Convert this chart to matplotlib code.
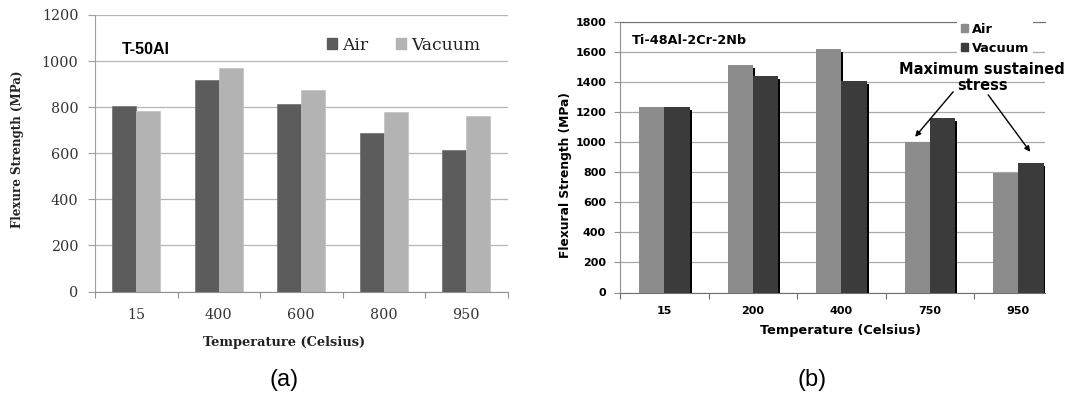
import matplotlib
matplotlib.use("agg")
import matplotlib.pyplot as plt
import matplotlib.transforms as mtransforms
from matplotlib.patches import Patch
import numpy as np

# (a) T-50Al
temps_a = ["15", "400", "600", "800", "950"]
air_a = [806, 918, 812, 686, 612]
vacuum_a = [785, 969, 876, 778, 763]

# (b) Ti-48Al-2Cr-2Nb
temps_b = ["15", "200", "400", "750", "950"]
air_b = [1237, 1513, 1621, 1001, 799]
vacuum_b = [1237, 1445, 1407, 1161, 861]

W, H = 1068, 398
fig = plt.figure(figsize=(W / 100, H / 100), dpi=100)

serif = "DejaVu Serif"
sans = "DejaVu Sans"
arial = "Liberation Sans"

# ---------------- left chart ----------------
ax1 = fig.add_axes([95 / W, 1 - 291.5 / H, 412.5 / W, 276.5 / H])
x = np.arange(len(temps_a))
bw = 0.29
ax1.bar(x - bw / 2, air_a, bw, color="#5c5c5c", edgecolor="#6e6e6e", linewidth=0.5, zorder=3)
ax1.bar(x + bw / 2, vacuum_a, bw, color="#b3b3b3", edgecolor="#c0c0c0", linewidth=0.5, zorder=3)
ax1.set_xlim(-0.5, 4.5)
ax1.set_ylim(0, 1200)
ax1.set_yticks(range(0, 1201, 200))
ax1.yaxis.grid(True, color="#b5b5b5", linewidth=0.9)
ax1.set_axisbelow(True)
for s in ["top", "right"]:
    ax1.spines[s].set_visible(False)
ax1.spines["left"].set_color("#a0a0a0")
ax1.spines["bottom"].set_color("#909090")
bounds_a = np.arange(len(temps_a) + 1) - 0.5
ax1.set_xticks(bounds_a, [""] * len(bounds_a))
ax1.set_xticks(x, temps_a, minor=True)
ax1.tick_params(axis="x", which="major", length=4, color="#909090", direction="out")
ax1.tick_params(axis="x", which="minor", length=0, pad=12)
ax1.tick_params(axis="y", length=5, color="#a0a0a0", pad=7)
for lab in ax1.get_xticklabels(minor=True) + ax1.get_yticklabels():
    lab.set_fontfamily(serif)
    lab.set_fontsize(10.3)
    lab.set_color("#333333")
ax1.set_ylabel("Flexure Strength (MPa)", fontfamily=serif, fontweight="bold", fontsize=8.6, color="#222222")
ax1.yaxis.set_label_coords(-0.189, 0.515)
ax1.yaxis.label.set_va("center")
ax1.set_xlabel("Temperature (Celsius)", fontfamily=serif, fontweight="bold", fontsize=9.4, color="#222222")
ax1.xaxis.set_label_coords(0.458, -0.186)
ax1.xaxis.label.set_va("center")
ax1.text(27 / 412.5, (291.5 - 50) / 276.5, "T-50Al", transform=ax1.transAxes,
         fontfamily=arial, fontweight="bold", fontsize=11.5, va="center", ha="left")
leg1 = ax1.legend([Patch(color="#5c5c5c"), Patch(color="#b3b3b3")], ["Air", "Vacuum"],
                  ncol=2, frameon=False, loc="center left",
                  bbox_to_anchor=(327 / W, 1 - 45 / H), bbox_transform=fig.transFigure,
                  borderpad=0, borderaxespad=0, handlelength=0.6, handleheight=0.6,
                  handletextpad=0.3, columnspacing=1.6,
                  prop={"family": serif, "size": 12.3})
for t in leg1.get_texts():
    t.set_color("#222222")
fig.text(284 / W, 1 - 380 / H, "(a)", fontfamily=arial, fontsize=17, ha="center", va="center")

# ---------------- right chart ----------------
ax2 = fig.add_axes([620 / W, 1 - 292.5 / H, 425 / W, 270.2 / H])
x = np.arange(len(temps_b))
bw = 0.285
shadow = mtransforms.offset_copy(ax2.transData, fig=fig, x=2, y=-3, units="dots")
ax2.bar(x - bw / 2, air_b, bw, color="black", zorder=2.8, transform=shadow)
ax2.bar(x - bw / 2, air_b, bw, color="#8c8c8c", zorder=3)
ax2.bar(x + bw / 2, vacuum_b, bw, color="black", zorder=3.2, transform=shadow)
ax2.bar(x + bw / 2, vacuum_b, bw, color="#3b3b3b", zorder=3.4)
ax2.set_xlim(-0.5, 4.3)
ax2.set_ylim(0, 1800)
ax2.set_yticks(range(0, 1801, 200))
ax2.yaxis.grid(True, color="#a8a8a8", linewidth=0.9)
ax2.set_axisbelow(True)
ax2.spines["right"].set_visible(False)
ax2.spines["top"].set_color("#707070")
ax2.spines["left"].set_color("#909090")
ax2.spines["bottom"].set_color("#707070")
bounds_b = np.arange(len(temps_b)) - 0.5
ax2.set_xticks(bounds_b, [""] * len(bounds_b))
ax2.set_xticks(x, temps_b, minor=True)
ax2.tick_params(axis="x", which="major", length=4, color="#707070", direction="out")
ax2.tick_params(axis="x", which="minor", length=0, pad=10)
ax2.tick_params(axis="y", length=4, color="#909090", pad=6)
for lab in ax2.get_xticklabels(minor=True) + ax2.get_yticklabels():
    lab.set_fontfamily(sans)
    lab.set_fontweight("bold")
    lab.set_fontsize(8)
ax2.set_ylabel("Flexural Strength (MPa)", fontfamily=sans, fontweight="bold", fontsize=8.8)
ax2.yaxis.set_label_coords(-0.129, 0.435)
ax2.yaxis.label.set_va("center")
ax2.set_xlabel("Temperature (Celsius)", fontfamily=sans, fontweight="bold", fontsize=9.3)
ax2.xaxis.set_label_coords(0.52, -0.139)
ax2.xaxis.label.set_va("center")
ax2.text(12 / 425, (292.5 - 40) / 270.2, "Ti-48Al-2Cr-2Nb", transform=ax2.transAxes,
         fontfamily=sans, fontweight="bold", fontsize=9.2, va="center", ha="left")
leg2 = ax2.legend([Patch(color="#8c8c8c"), Patch(color="#3b3b3b")], ["Air", "Vacuum"],
                  loc="upper right", bbox_to_anchor=(1033 / W, 1 - 19 / H),
                  bbox_transform=fig.transFigure, frameon=True, facecolor="white",
                  edgecolor="none", framealpha=1, fancybox=False,
                  borderpad=0.3, borderaxespad=0, handlelength=0.55, handleheight=0.55,
                  handletextpad=0.3, labelspacing=0.45,
                  prop={"family": sans, "weight": "bold", "size": 9.3})
leg2.set_zorder(6)
ax2.text(3.59, 1430, "Maximum sustained\nstress", ha="center", va="center",
         fontfamily=sans, fontweight="bold", fontsize=10.5, linespacing=1.1,
         clip_on=False, zorder=7)
arrow = dict(arrowstyle="-|>", color="black", lw=1, mutation_scale=8, shrinkA=0, shrinkB=0)
ax2.annotate("", xy=(2.833, 1037), xytext=(3.263, 1337), arrowprops=arrow, zorder=7)
ax2.annotate("", xy=(4.133, 937), xytext=(3.658, 1317), arrowprops=arrow, zorder=7,
             annotation_clip=False)
fig.text(812 / W, 1 - 380 / H, "(b)", fontfamily=arial, fontsize=17, ha="center", va="center")

fig.savefig("out.png", dpi=100)
plt.close(fig)
